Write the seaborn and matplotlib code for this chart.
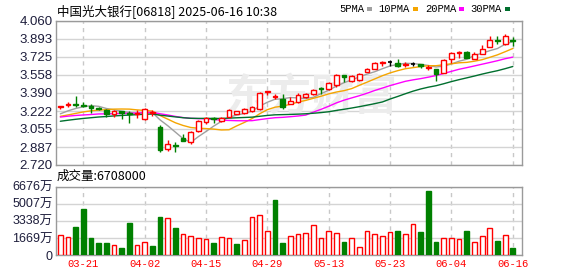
import numpy as np
import pandas as pd
import matplotlib
matplotlib.use("Agg")
import matplotlib.pyplot as plt
from matplotlib.patches import Rectangle
import seaborn as sns

# ---------------- data ----------------
title = "中国光大银行[06818] 2025-06-16 10:38"
dates = ["03-18", "03-19", "03-20", "03-21", "03-24", "03-25", "03-26", "03-27", "03-28", "03-31",
         "04-01", "04-02", "04-03", "04-07", "04-08", "04-09", "04-10", "04-11", "04-14", "04-15",
         "04-16", "04-17", "04-22", "04-23", "04-24", "04-25", "04-28", "04-29", "04-30",
         "05-02", "05-06", "05-07", "05-08", "05-09", "05-12", "05-13", "05-14", "05-15", "05-16",
         "05-19", "05-20", "05-21", "05-22", "05-23", "05-26", "05-27", "05-28", "05-29", "05-30",
         "06-02", "06-03", "06-04", "06-05", "06-06", "06-09", "06-10", "06-11", "06-12", "06-13", "06-16"]
# closes of the 29 sessions before the first drawn candle (needed for the moving averages)
prior_close = [3.00, 3.02, 3.03, 3.05, 3.04, 3.06, 3.05, 3.07, 3.08, 3.09,
               3.12, 3.15, 3.18, 3.16, 3.14, 3.17, 3.19, 3.16, 3.15, 3.17,
               3.16, 3.14, 3.13, 3.15, 3.17, 3.15, 3.17, 3.19, 3.20]
open_ = [3.26, 3.28, 3.29, 3.28, 3.27, 3.25, 3.23, 3.19, 3.22, 3.20,
         3.19, 3.15, 3.20, 3.07, 2.87, 2.91, 2.97, 2.93, 3.04, 3.12,
         3.16, 3.13, 3.17, 3.19, 3.20, 3.22, 3.24, 3.40, 3.35, 3.33,
         3.29, 3.31, 3.35, 3.38, 3.44, 3.43, 3.46, 3.56, 3.50, 3.51,
         3.59, 3.61, 3.67, 3.68, 3.67, 3.65, 3.66, 3.66, 3.62, 3.61,
         3.58, 3.71, 3.76, 3.77, 3.71, 3.75, 3.82, 3.88, 3.85, 3.88]
high = [3.27, 3.31, 3.36, 3.31, 3.29, 3.26, 3.24, 3.23, 3.22, 3.22,
        3.23, 3.25, 3.23, 3.09, 2.95, 2.93, 3.01, 3.04, 3.14, 3.17,
        3.17, 3.17, 3.24, 3.22, 3.25, 3.27, 3.40, 3.41, 3.38, 3.38,
        3.35, 3.39, 3.39, 3.43, 3.45, 3.49, 3.57, 3.56, 3.56, 3.58,
        3.62, 3.68, 3.69, 3.70, 3.71, 3.68, 3.68, 3.66, 3.65, 3.61,
        3.71, 3.77, 3.78, 3.78, 3.77, 3.84, 3.92, 3.92, 3.94, 3.91]
low = [3.24, 3.26, 3.26, 3.26, 3.20, 3.23, 3.17, 3.17, 3.15, 3.11,
       3.16, 3.14, 3.18, 2.84, 2.85, 2.84, 2.94, 2.92, 3.03, 3.10,
       3.11, 3.12, 3.17, 3.19, 3.19, 3.21, 3.23, 3.37, 3.33, 3.24,
       3.29, 3.30, 3.34, 3.37, 3.38, 3.42, 3.45, 3.49, 3.49, 3.50,
       3.59, 3.61, 3.64, 3.64, 3.63, 3.63, 3.64, 3.62, 3.60, 3.50,
       3.58, 3.67, 3.72, 3.72, 3.71, 3.75, 3.82, 3.85, 3.84, 3.83]
close = [3.27, 3.29, 3.28, 3.27, 3.25, 3.24, 3.19, 3.22, 3.20, 3.19,
         3.20, 3.24, 3.21, 2.86, 2.92, 2.90, 2.94, 3.03, 3.13, 3.16,
         3.15, 3.16, 3.23, 3.22, 3.24, 3.26, 3.39, 3.41, 3.36, 3.26,
         3.32, 3.37, 3.38, 3.42, 3.43, 3.48, 3.56, 3.54, 3.55, 3.57,
         3.61, 3.67, 3.68, 3.68, 3.64, 3.66, 3.66, 3.64, 3.63, 3.57,
         3.70, 3.76, 3.77, 3.72, 3.75, 3.80, 3.88, 3.87, 3.92, 3.87]
volume_wan = [1921, 1726, 2735, 4494, 1661, 1172, 1172, 944, 684, 3126,
              944, 1237, 879, 3712, 3582, 2638, 2019, 1824, 1628, 1531,
              1172, 1726, 1628, 1075, 1433, 3680, 3875, 2345, 5373, 1172,
              1824, 2019, 2149, 2898, 1628, 2345, 2117, 1270, 1628, 749,
              2345, 2052, 1824, 2247, 2345, 2052, 3029, 2247, 6253, 1270,
              1628, 1628, 1531, 2345, 1270, 1824, 2605, 1368, 1921, 670.8]
last_volume = 6708000
price_ticks = [2.720, 2.887, 3.055, 3.222, 3.390, 3.558, 3.725, 3.893, 4.060]
volume_ticks_wan = [0, 1669, 3338, 5007, 6676]
date_ticks = ["03-21", "04-02", "04-15", "04-29", "05-13", "05-23", "06-04", "06-16"]
ma_windows = [5, 10, 20, 30]
ma_labels = ["5PMA", "10PMA", "20PMA", "30PMA"]
ma_colors = ["#a0a0a0", "#f5a500", "#ff00ff", "#006f2e"]

# ---------------- style ----------------
sns.set_theme(style="white")
plt.rcParams["font.family"] = ["Liberation Sans", "Noto Sans CJK SC", "DejaVu Sans"]

W, H = 578, 276
fig = plt.figure(figsize=(W / 100, H / 100), dpi=100)
fig.patch.set_facecolor("white")

def axes_px(left, top, right, bottom):
    return fig.add_axes([left / W, 1 - bottom / H, (right - left) / W, (bottom - top) / H])

ax = axes_px(55.5, 21, 521.7, 165)
axv = axes_px(55.5, 186.7, 521.7, 255)

RED, GREEN, BLACK = "#ff0000", "#008000", "#000000"
frame = "#9a9a9a"
grid_c = "#d4d4d4"
label_c = "#1e1e3c"

n = len(close)
x = np.arange(n)
o = np.array(open_); h = np.array(high); l = np.array(low); c = np.array(close)
prev = np.concatenate([[prior_close[-1]], c[:-1]])
vol_up = c >= prev

cand_colors = []
for i in range(n):
    if c[i] > o[i]:
        cand_colors.append(RED)
    elif c[i] < o[i]:
        cand_colors.append(GREEN)
    elif c[i] > prev[i]:
        cand_colors.append(RED)
    elif c[i] < prev[i]:
        cand_colors.append(GREEN)
    else:
        cand_colors.append(BLACK)

xmin, xmax = -0.63, 60.16
bw = 0.62

# ---- price panel ----
ax.set_xlim(xmin, xmax)
ax.set_ylim(price_ticks[0], price_ticks[-1])
ax.set_yticks(price_ticks)
ax.set_yticklabels([f"{t:.3f}" for t in price_ticks], color=label_c, fontsize=9.5)
ax.set_xticks([])
ax.yaxis.grid(True, color=grid_c, lw=1, zorder=0)
ax.set_axisbelow(True)
ax.tick_params(axis="y", length=0, pad=2)
for s in ax.spines.values():
    s.set_color(frame); s.set_linewidth(1)

date_pos = [dates.index(d) for d in date_ticks]
for p in date_pos:
    ax.axvline(p, color="#c8c8c8", lw=1, ls=(0, (3, 3)), zorder=0.5)
    axv.axvline(p, color="#c8c8c8", lw=1, ls=(0, (3, 3)), zorder=0.5)

# watermark
ax.text(0.55, 0.47, "东方财富", transform=ax.transAxes, ha="center", va="center",
        fontsize=31, fontweight="bold", color="#ececec", zorder=0.6,
        family=["Noto Sans CJK SC"])

# moving averages
all_close = pd.Series(list(prior_close) + list(close))
for w, lab, col in zip(ma_windows, ma_labels, ma_colors):
    ma = all_close.rolling(w).mean().iloc[len(prior_close):].to_numpy()
    df = pd.DataFrame({"x": x, "ma": ma})
    sns.lineplot(data=df, x="x", y="ma", ax=ax, color=col, lw=1, zorder=3)
ax.set_xlabel(""); ax.set_ylabel("")

# candles
ax.vlines(x, l, h, colors=cand_colors, lw=1, zorder=4)
for i in range(n):
    col = cand_colors[i]
    lo_b, hi_b = min(o[i], c[i]), max(o[i], c[i])
    if hi_b - lo_b < 1e-9:
        ax.hlines(c[i], i - bw / 2, i + bw / 2, colors=col, lw=1.2, zorder=5)
    else:
        face = "white" if col == RED else col
        ax.bar(i, hi_b - lo_b, bottom=lo_b, width=bw, facecolor=face, edgecolor=col,
               lw=1, zorder=5)

# ---- volume panel ----
axv.set_xlim(xmin, xmax)
vmax = volume_ticks_wan[-1] * 1e4
axv.set_ylim(0, vmax)
axv.set_yticks([t * 1e4 for t in volume_ticks_wan])
axv.set_yticklabels([("0" if t == 0 else f"{t}万") for t in volume_ticks_wan],
                    color=label_c, fontsize=9)
axv.yaxis.grid(True, color=grid_c, lw=1, zorder=0)
axv.set_axisbelow(True)
axv.tick_params(axis="y", length=0, pad=2)
axv.tick_params(axis="x", length=0, pad=3)
axv.set_xticks(date_pos)
axv.set_xticklabels(date_ticks, color=RED, fontsize=7.6, family=["Liberation Mono"])
for s in axv.spines.values():
    s.set_color(frame); s.set_linewidth(1)

vol = np.array(volume_wan) * 1e4
for i in range(n):
    if vol_up[i]:
        axv.bar(i, vol[i], width=bw, facecolor="white", edgecolor=RED, lw=1, zorder=3)
    else:
        axv.bar(i, vol[i], width=bw, facecolor=GREEN, edgecolor=GREEN, lw=1, zorder=3)

# ---- texts ----
fig.text(57 / W, 1 - 11.5 / H, title, ha="left", va="center", fontsize=9,
         color="#000000", family=["Noto Sans CJK SC"])
fig.text(57 / W, 1 - 176.5 / H, f"成交量:{last_volume}", ha="left", va="center", fontsize=9,
         color="#000000", family=["Noto Sans CJK SC"])

legend_right = [364, 410, 456, 502]
for lab, col, xr in zip(ma_labels, ma_colors, legend_right):
    fig.text(xr / W, 1 - 9.5 / H, lab, ha="right", va="center", fontsize=7.6,
             color="#000000", family=["Liberation Mono"])
    fig.add_artist(Rectangle(((xr + 3) / W, 1 - 10.5 / H), 5 / W, 3.5 / H,
                             transform=fig.transFigure, facecolor=col, edgecolor="none"))

fig.savefig("out.png", dpi=100, facecolor="white")
